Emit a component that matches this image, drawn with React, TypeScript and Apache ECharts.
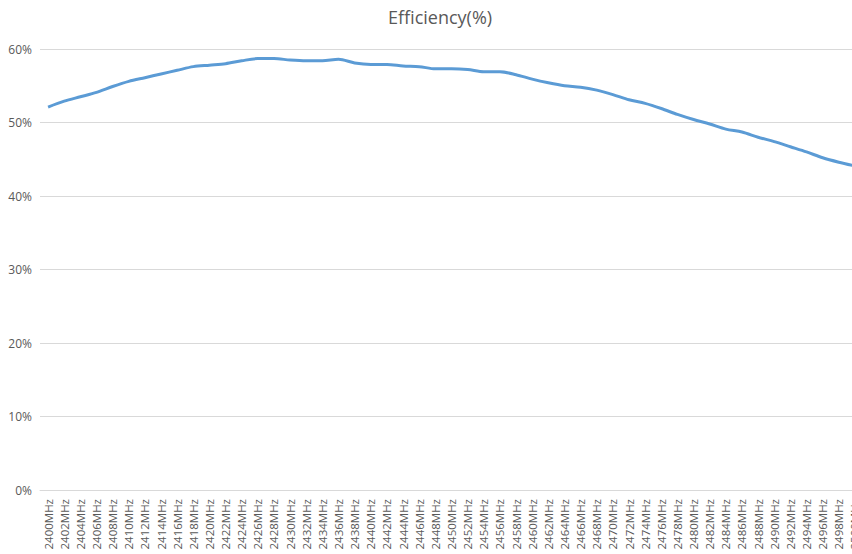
import React, { useEffect, useRef } from "react";
import * as echarts from "echarts";

const frequencies: string[] = [];
for (let f = 2400; f <= 2500; f += 2) frequencies.push(`${f}MHz`);

const efficiency: number[] = [
  52.1, 52.9, 53.5, 54.1, 54.9, 55.6, 56.1, 56.6, 57.1, 57.6,
  57.8, 58.0, 58.4, 58.7, 58.7, 58.5, 58.4, 58.4, 58.6, 58.1,
  57.9, 57.9, 57.7, 57.6, 57.3, 57.3, 57.2, 56.9, 56.9, 56.5,
  55.9, 55.4, 55.0, 54.8, 54.4, 53.8, 53.1, 52.6, 51.9, 51.1,
  50.4, 49.8, 49.1, 48.7, 48.0, 47.4, 46.7, 46.0, 45.2, 44.6,
  44.1,
];

const yTicks = { min: 0, max: 60, interval: 10 };
const titleText = "Efficiency(%)";

export default function App() {
  const ref = useRef<HTMLDivElement>(null);
  useEffect(() => {
    if (!ref.current) return;
    const chart = echarts.init(ref.current, null, { renderer: "svg" });
    const font = "'Open Sans', 'Liberation Sans', sans-serif";
    chart.setOption({
      animation: false,
      backgroundColor: "#ffffff",
      title: {
        text: titleText,
        left: 383,
        top: 3,
        textStyle: { fontFamily: font, fontSize: 18, fontWeight: "normal", color: "#595959" },
      },
      grid: {
        left: 40,
        right: -11,
        top: 49,
        bottom: 64,
        containLabel: false,
        outerBoundsMode: "none",
      },
      xAxis: {
        type: "category",
        data: frequencies,
        boundaryGap: true,
        axisLine: { show: true, lineStyle: { color: "#d9d9d9", width: 1 } },
        axisTick: { show: false },
        axisLabel: {
          interval: 0,
          rotate: 90,
          margin: 9,
          fontFamily: font,
          fontSize: 11.5,
          color: "#595959",
        },
        splitLine: { show: false },
      },
      yAxis: {
        type: "value",
        min: yTicks.min,
        max: yTicks.max,
        interval: yTicks.interval,
        axisLine: { show: false },
        axisTick: { show: false },
        axisLabel: {
          formatter: "{value}%",
          margin: 8,
          fontFamily: font,
          fontSize: 12,
          color: "#595959",
        },
        splitLine: { show: true, lineStyle: { color: "#d9d9d9", width: 1 } },
      },
      series: [
        {
          type: "line",
          data: efficiency,
          showSymbol: false,
          smooth: 0.3,
          lineStyle: { color: "#5B9BD5", width: 3 },
          itemStyle: { color: "#5B9BD5" },
        },
      ],
    });
    return () => chart.dispose();
  }, []);
  return (
    <div
      ref={ref}
      style={{ position: "fixed", left: 0, top: 0, width: 852, height: 554 }}
    />
  );
}
